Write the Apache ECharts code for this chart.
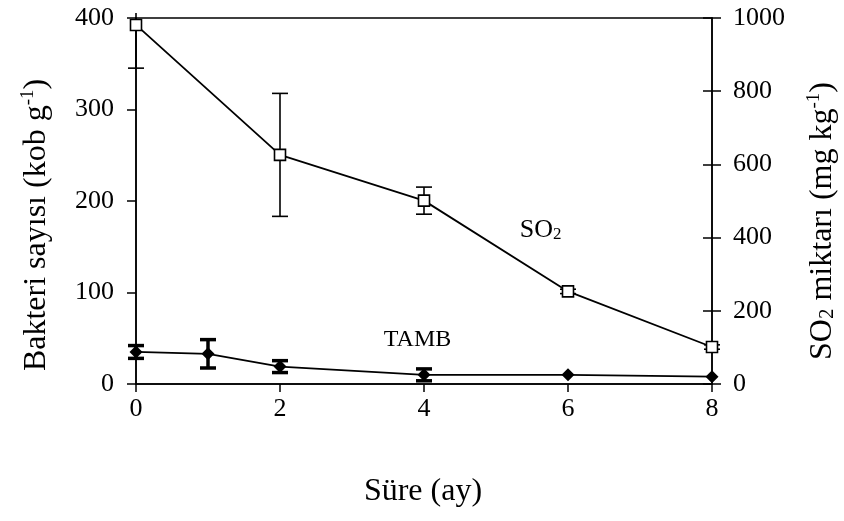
<!DOCTYPE html>
<html>
<head>
<meta charset="utf-8">
<script src="https://cdn.jsdelivr.net/npm/echarts@6/dist/echarts.min.js"></script>
<style>
  html, body { margin: 0; padding: 0; background: #fff; }
  #chart { width: 844px; height: 521px; }
</style>
</head>
<body>
<div id="chart"></div>
<script>
// Sampling months (ay)
var so2Months = [0, 2, 4, 6, 8];
var tambMonths = [0, 1, 2, 4, 6, 8];

// SO2 content (mg kg-1) with standard deviation
var so2Values = [981, 626, 501, 253, 101];
var so2Err = [118, 168, 37, 6, 6];

// Total aerobic mesophilic bacteria (kob g-1) with standard deviation
var tambValues = [35, 33, 19, 10, 10, 8];
var tambErr = [7, 15.5, 6.5, 6.5, 0, 0];

// Axis ticks
var xTicks = [0, 2, 4, 6, 8];
var leftTicks = [0, 100, 200, 300, 400];
var rightTicks = [0, 200, 400, 600, 800, 1000];

var FONT = "'Liberation Serif', 'Times New Roman', serif";
var TITLE_SIZE = 32;

function pairs(xs, ys) {
  return xs.map(function (x, i) { return [x, ys[i]]; });
}
function triples(xs, ys, es) {
  return xs.map(function (x, i) { return [x, ys[i], es[i]]; });
}

function errorBars(capHalf, width) {
  return function (params, api) {
    var x = api.value(0), y = api.value(1), e = api.value(2);
    if (!e) return null;
    var top = api.coord([x, y + e]);
    var bot = api.coord([x, y - e]);
    var cs = params.coordSys;
    var children = [];
    var topY = top[1];
    var clipped = false;
    if (topY < cs.y - 5) { topY = cs.y - 5; clipped = true; }
    var st = { stroke: '#000', lineWidth: width };
    children.push({ type: 'line', shape: { x1: top[0], y1: topY, x2: bot[0], y2: bot[1] }, style: st });
    if (!clipped) {
      children.push({ type: 'line', shape: { x1: top[0] - capHalf, y1: top[1], x2: top[0] + capHalf, y2: top[1] }, style: st });
    }
    children.push({ type: 'line', shape: { x1: bot[0] - capHalf, y1: bot[1], x2: bot[0] + capHalf, y2: bot[1] }, style: st });
    return { type: 'group', children: children };
  };
}

var axisLineStyle = { color: '#000', width: 1.5 };
var plain = function (v) { return String(v); };

var chart = echarts.init(document.getElementById('chart'), null, { renderer: 'canvas' });

chart.setOption({
  backgroundColor: '#fff',
  animation: false,
  grid: {
    left: 136, right: 132, top: 18, bottom: 137,
    show: true, borderColor: '#000', borderWidth: 1.5
  },
  xAxis: {
    type: 'value', min: xTicks[0], max: xTicks[xTicks.length - 1], interval: 2,
    axisLine: { show: true, lineStyle: axisLineStyle },
    axisTick: { show: true, inside: false, length: 8, lineStyle: axisLineStyle },
    axisLabel: { color: '#000', fontFamily: FONT, fontSize: 26, margin: 12, formatter: plain },
    splitLine: { show: false }
  },
  yAxis: [
    {
      type: 'value', position: 'left', min: leftTicks[0], max: leftTicks[leftTicks.length - 1], interval: 100,
      axisLine: { show: true, lineStyle: axisLineStyle },
      axisTick: { show: true, inside: false, length: 9, lineStyle: axisLineStyle },
      axisLabel: { color: '#000', fontFamily: FONT, fontSize: 26, margin: 22, formatter: plain },
      splitLine: { show: false }
    },
    {
      type: 'value', position: 'right', min: rightTicks[0], max: rightTicks[rightTicks.length - 1], interval: 200,
      axisLine: { show: true, lineStyle: axisLineStyle },
      axisTick: { show: true, inside: false, length: 9, lineStyle: axisLineStyle },
      axisLabel: { color: '#000', fontFamily: FONT, fontSize: 26, margin: 21, formatter: plain },
      splitLine: { show: false }
    },
    {
      // inner half of the crossing ticks on the right axis
      type: 'value', position: 'right', offset: 0,
      min: rightTicks[0], max: rightTicks[rightTicks.length - 1], interval: 200,
      axisLine: { show: false },
      axisTick: { show: true, inside: true, length: 9, lineStyle: axisLineStyle },
      axisLabel: { show: false },
      splitLine: { show: false }
    }
  ],
  graphic: [
    {
      type: 'text', x: 37, y: 225, rotation: Math.PI / 2,
      style: {
        text: '{t|Bakteri sayısı (kob g}{sup|-1}{t|)}',
        align: 'center', verticalAlign: 'middle', fill: '#000',
        rich: {
          t: { fontFamily: FONT, fontSize: TITLE_SIZE, fill: '#000' },
          sup: { fontFamily: FONT, fontSize: 19, fill: '#000', padding: [0, 0, 18, 0] }
        }
      }
    },
    {
      type: 'text', x: 823, y: 221, rotation: Math.PI / 2,
      style: {
        text: '{t|SO}{sub|2}{t| miktarı (mg kg}{sup|-1}{t|)}',
        align: 'center', verticalAlign: 'middle', fill: '#000',
        rich: {
          t: { fontFamily: FONT, fontSize: TITLE_SIZE, fill: '#000' },
          sub: { fontFamily: FONT, fontSize: 21, fill: '#000', padding: [9, 0, 0, 0] },
          sup: { fontFamily: FONT, fontSize: 19, fill: '#000', padding: [0, 0, 18, 0] }
        }
      }
    },
    {
      type: 'text', x: 423, y: 492,
      style: {
        text: 'Süre (ay)', font: TITLE_SIZE + 'px ' + FONT,
        align: 'center', verticalAlign: 'middle', fill: '#000'
      }
    }
  ],
  series: [
    {
      type: 'custom', name: 'SO2 sd', xAxisIndex: 0, yAxisIndex: 1, z: 1,
      renderItem: errorBars(8, 1.6),
      data: triples(so2Months, so2Values, so2Err),
      clip: false
    },
    {
      type: 'custom', name: 'TAMB sd', xAxisIndex: 0, yAxisIndex: 0, z: 1,
      renderItem: errorBars(8, 3.5),
      data: triples(tambMonths, tambValues, tambErr),
      clip: false
    },
    {
      type: 'line', name: 'SO2', xAxisIndex: 0, yAxisIndex: 1, z: 3,
      data: pairs(so2Months, so2Values),
      symbol: 'rect', symbolSize: 11, showAllSymbol: true,
      lineStyle: { color: '#000', width: 1.8 },
      itemStyle: { color: '#fff', borderColor: '#000', borderWidth: 1.6 },
      clip: false
    },
    {
      type: 'line', name: 'TAMB', xAxisIndex: 0, yAxisIndex: 0, z: 3,
      data: pairs(tambMonths, tambValues),
      symbol: 'diamond', symbolSize: 13, showAllSymbol: true,
      lineStyle: { color: '#000', width: 1.8 },
      itemStyle: { color: '#000', borderColor: '#000', borderWidth: 0 },
      clip: false
    },
    {
      // series name annotations
      type: 'scatter', xAxisIndex: 0, yAxisIndex: 1, z: 4,
      symbolSize: 0, silent: true, itemStyle: { opacity: 1 },
      data: [{ value: [5.62, 421], label: { formatter: '{t|SO}{sub|2}' } }],
      label: {
        show: true, position: 'inside', color: '#000', opacity: 1,
        rich: {
          t: { fontFamily: FONT, fontSize: 26, color: '#000' },
          sub: { fontFamily: FONT, fontSize: 17, color: '#000', padding: [9, 0, 0, 0] }
        }
      }
    },
    {
      type: 'scatter', xAxisIndex: 0, yAxisIndex: 0, z: 4,
      symbolSize: 0, silent: true, itemStyle: { opacity: 1 },
      data: [{ value: [3.91, 48], label: { formatter: 'TAMB' } }],
      label: { show: true, position: 'inside', color: '#000', opacity: 1, fontFamily: FONT, fontSize: 24 }
    }
  ]
});
</script>
</body>
</html>
